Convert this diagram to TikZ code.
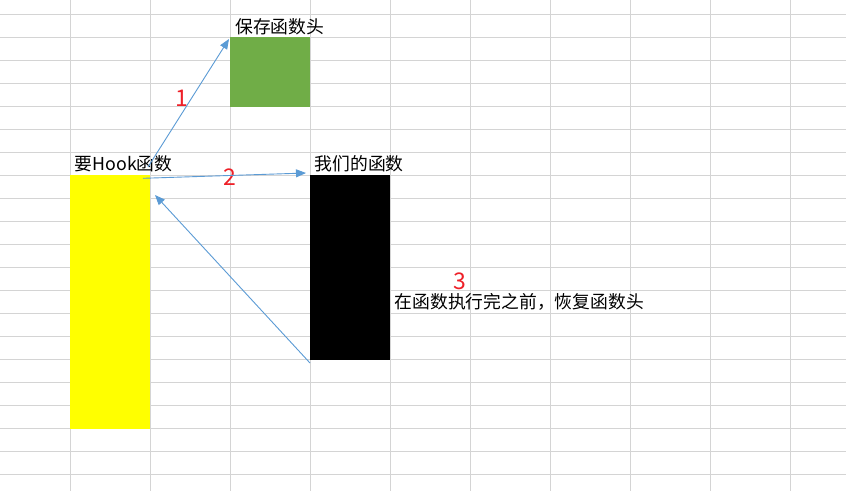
\documentclass[tikz,border=0pt]{standalone}
\usepackage{fontspec}
\setmainfont{Noto Sans CJK SC}
\usetikzlibrary{arrows.meta}
\definecolor{gridc}{RGB}{212,212,212}
\definecolor{arrc}{RGB}{91,155,213}
\definecolor{greenc}{RGB}{112,173,71}
\definecolor{yellowc}{RGB}{255,255,0}
\definecolor{redc}{RGB}{238,32,40}
\tikzset{
  gridline/.style={draw=gridc, line width=1.2pt},
  cellbox/.style={draw=none, inner sep=0pt, outer sep=0pt, minimum width=80pt},
  lbl/.style={anchor=base west, inner sep=0pt, font=\fontsize{17.8}{20}\selectfont},
  num/.style={text=redc, inner sep=0pt, font=\fontsize{23}{26}\selectfont},
  conn/.style={draw=arrc, line width=0.9pt, -{Triangle[length=10pt,width=8pt]}}
}
\begin{document}
\begin{tikzpicture}[x=1pt,y=-1pt]
\useasboundingbox (0,0) rectangle (846,491);
\fill[white] (0,0) rectangle (846,491);
% grid
\foreach \k in {0,...,9} { \draw[gridline] ({70.5+80*\k},0) -- ({70.5+80*\k},491); }
\foreach \k in {0,...,20} { \draw[gridline] (0,{14.3+23*\k}) -- (846,{14.3+23*\k}); }
% boxes
\node[cellbox, fill=greenc, minimum height=69.5pt, anchor=north west] (save) at (230.3,37.3) {};
\node[cellbox, fill=yellowc, minimum height=253.5pt, anchor=north west] (hook) at (70.3,175.3) {};
\node[cellbox, fill=black, minimum height=184.5pt, anchor=north west] (ours) at (310.3,175.3) {};
% labels
\node[lbl] (tsave) at (235,33) {保存函数头};
\node[lbl] (thook) at (74.5,170) {要Hook函数};
\node[lbl] (tours) at (314.5,170) {我们的函数};
\node[lbl] (trest) at (394.5,308) {在函数执行完之前，恢复函数头};
% numbers
\node[num] (n1) at (182,98) {1};
\node[num] (n2) at (230,177) {2};
\node[num] (n3) at (459.5,281) {3};
% connectors
\coordinate (a1s) at (148,167);
\coordinate (a1e) at (229,39);
\coordinate (a2s) at (143,178.3);
\coordinate (a2e) at (306,173);
\coordinate (a3s) at (310,363);
\coordinate (a3e) at (155,195);
\draw[conn] (a1s) -- (a1e);
\draw[conn] (a2s) -- (a2e);
\draw[conn] (a3s) -- (a3e);
\end{tikzpicture}
\end{document}
